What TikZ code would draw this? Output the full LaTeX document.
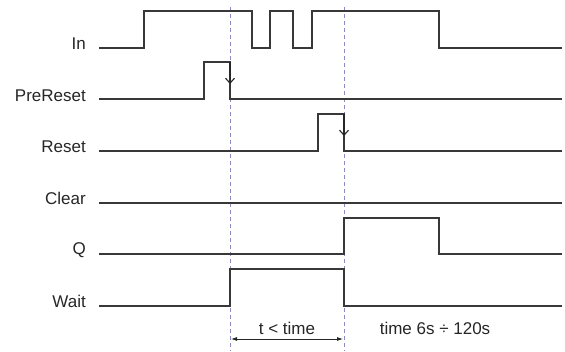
\documentclass[tikz,border=0pt]{standalone}
\usepackage{fontspec}
\setmainfont{Liberation Sans}
\usetikzlibrary{arrows.meta}
\begin{document}
\begin{tikzpicture}[x=1pt,y=-1pt,
  lbl/.style={anchor=east,font=\fontsize{17}{20}\selectfont,text=black!85,inner sep=0pt},
  sig/.style={draw=black!78,line width=1.3pt,line join=miter},
  marker/.style={draw=blue!30!gray!70,line width=0.8pt,dash pattern=on 4pt off 3pt},
  edgearrow/.style={draw=black!85,line width=1.1pt,-{Straight Barb[length=5pt,width=9pt]}},
  dim/.style={draw=black!85,line width=0.8pt,{Latex[length=6pt,width=4pt]}-{Latex[length=6pt,width=4pt]}},
  txt/.style={font=\fontsize{17}{20}\selectfont,text=black!85,inner sep=0pt}]
\useasboundingbox (0,0) rectangle (565,351);
% labels
\node[lbl] (lIn) at (86,44) {In};
\node[lbl] (lPre) at (86,96) {PreReset};
\node[lbl] (lRes) at (86,147) {Reset};
\node[lbl] (lClr) at (86,198) {Clear};
\node[lbl] (lQ) at (86,250) {Q};
\node[lbl] (lWait) at (86,301) {Wait};
% markers
\coordinate (m1t) at (230,7); \coordinate (m1b) at (230,351);
\coordinate (m2t) at (344,7); \coordinate (m2b) at (344,351);
\draw[marker] (m1t) -- (m1b);
\draw[marker] (m2t) -- (m2b);
% signals
\draw[sig] (99,48) -- (144,48) -- (144,11) -- (252,11) -- (252,48) -- (270,48) -- (270,11) -- (293,11) -- (293,48) -- (312,48) -- (312,11) -- (439,11) -- (439,48) -- (562,48);
\draw[sig] (99,99) -- (204,99) -- (204,62) -- (230,62) -- (230,99) -- (562,99);
\draw[sig] (99,151) -- (318,151) -- (318,114) -- (344,114) -- (344,151) -- (562,151);
\draw[sig] (99,203) -- (562,203);
\draw[sig] (99,254) -- (344,254) -- (344,218) -- (439,218) -- (439,254) -- (562,254);
\draw[sig] (99,306) -- (230,306) -- (230,269) -- (344,269) -- (344,306) -- (562,306);
% edge arrows
\coordinate (a1s) at (230,62); \coordinate (a1e) at (230,84);
\coordinate (a2s) at (344,114); \coordinate (a2e) at (344,136);
\draw[edgearrow] (a1s) -- (a1e);
\draw[edgearrow] (a2s) -- (a2e);
% dimension
\coordinate (d1) at (231,339); \coordinate (d2) at (343,339);
\draw[dim] (d1) -- (d2);
\node[txt] (t1) at (287,328) {t < time};
\node[txt] (t2) at (435,328) {time 6s ÷ 120s};
\end{tikzpicture}
\end{document}
